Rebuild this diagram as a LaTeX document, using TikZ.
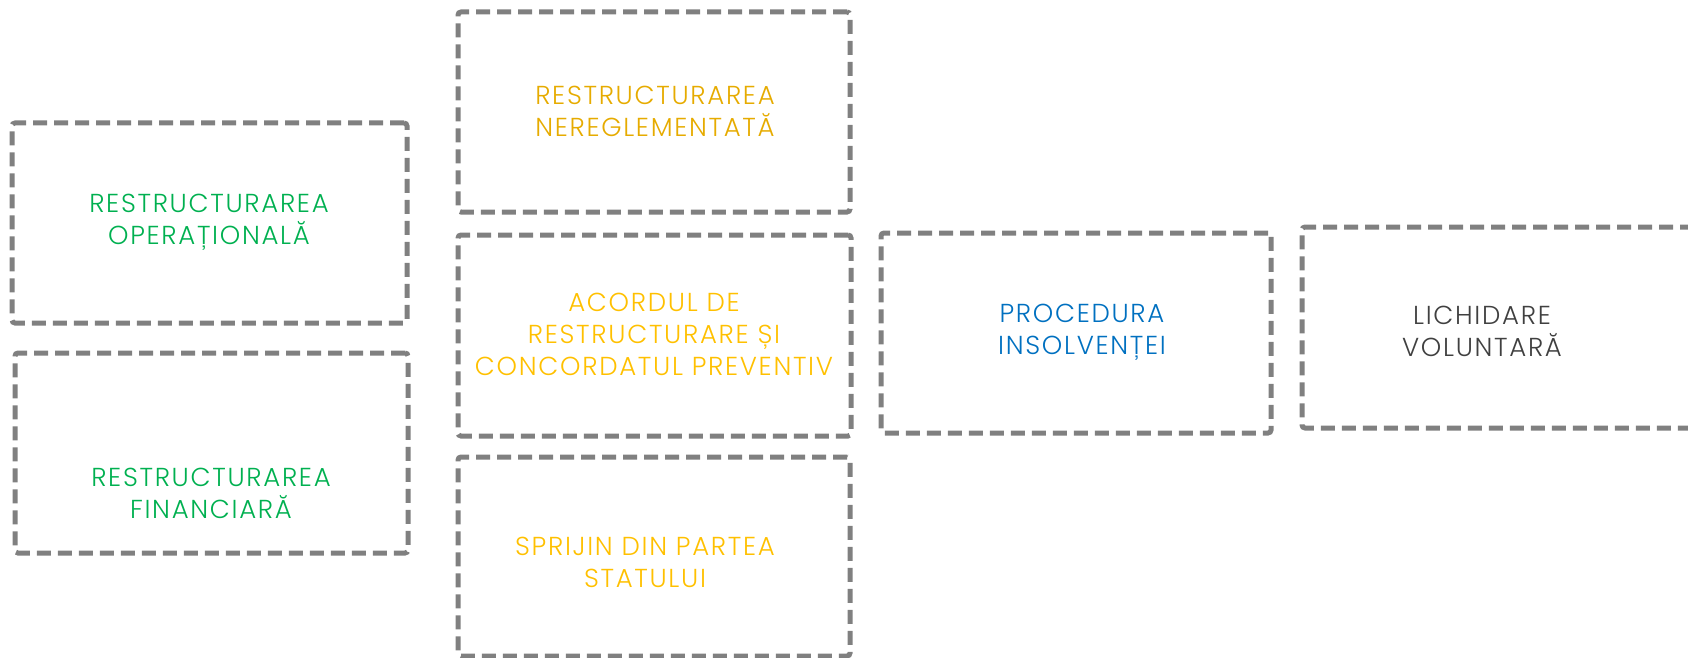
\documentclass[tikz,border=0pt]{standalone}
\usepackage{fontspec}
\setmainfont{Poppins}[UprightFont=* Light, LetterSpace=6.5]
\definecolor{dashgray}{HTML}{808080}
\definecolor{tgreen}{HTML}{00B050}
\definecolor{tgold}{HTML}{E6AB00}
\definecolor{tamber}{HTML}{FFC000}
\definecolor{tblue}{HTML}{0070C0}
\definecolor{tdark}{HTML}{404040}
\tikzset{
  dbox/.style={draw=dashgray, line width=5pt, dash pattern=on 14pt off 7pt,
    rounded corners=3pt, inner sep=0pt, fill=none},
  label/.style={align=center, inner sep=0pt,
    font=\fontsize{26}{32}\selectfont},
}
\begin{document}
\begin{tikzpicture}[x=1pt,y=-1pt]
\useasboundingbox (0,0) rectangle (1688,658);
\clip (0,0) rectangle (1688,658);
% boxes
\node[dbox, minimum width=395pt, minimum height=200pt] (b1) at (209.5,223) {};
\node[dbox, minimum width=393pt, minimum height=200pt] (b2) at (211.5,453) {};
\node[dbox, minimum width=392pt, minimum height=200pt] (b3) at (654,112) {};
\node[dbox, minimum width=393pt, minimum height=201pt] (b4) at (654.5,335.5) {};
\node[dbox, minimum width=392pt, minimum height=199pt] (b5) at (654,556.5) {};
\node[dbox, minimum width=390pt, minimum height=200pt] (b6) at (1076,333) {};
\node[dbox, minimum width=395pt, minimum height=201pt] (b7) at (1499.5,327.5) {};
% labels
\node[label, text=tgreen] (t1) at (209,222) {RESTRUCTURAREA\\OPERAȚIONALĂ};
\node[label, text=tgreen] (t2) at (211,493) {RESTRUCTURAREA\\FINANCIARĂ};
\node[label, text=tgold] (t3) at (655,111) {RESTRUCTURAREA\\NEREGLEMENTATĂ};
\node[label, text=tamber] (t4) at (654,334) {ACORDUL DE\\RESTRUCTURARE ȘI\\CONCORDATUL PREVENTIV};
\node[label, text=tamber] (t5) at (645,562) {SPRIJIN DIN PARTEA\\STATULUI};
\node[label, text=tblue] (t6) at (1082,332) {PROCEDURA\\INSOLVENȚEI};
\node[label, text=tdark] (t7) at (1482,331) {LICHIDARE\\VOLUNTARĂ};
\end{tikzpicture}
\end{document}
